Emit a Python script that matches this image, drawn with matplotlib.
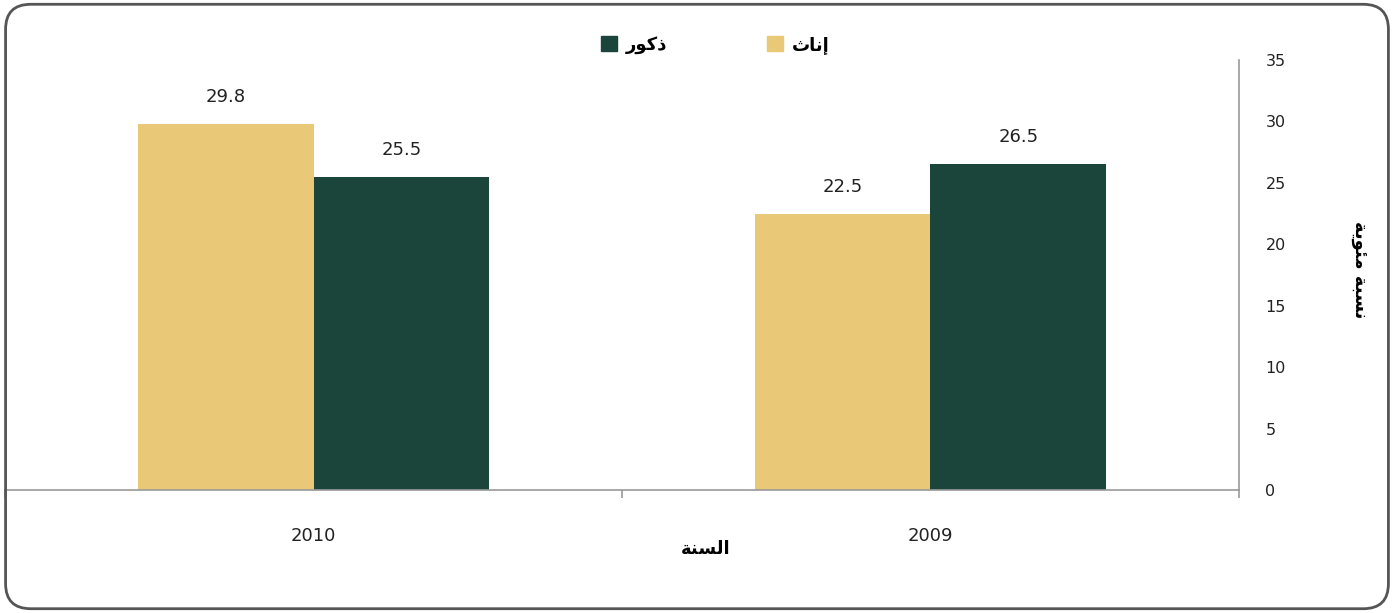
import matplotlib
matplotlib.use("Agg")
import matplotlib.pyplot as plt
from matplotlib.patches import FancyBboxPatch, Patch
import numpy as np

# data (years shown right-to-left, 2009 on the right)
years = ["2009", "2010"]
female = [22.5, 29.8]   # إناث
male = [26.5, 25.5]     # ذكور

# Arabic labels in presentation forms, visual (left-to-right) order,
# since matplotlib does no Arabic shaping itself
lbl_female = "\uFE99\uFE8E\uFEE7\uFE87"          # إناث
lbl_male = "\uFEAD\uFEEE\uFEDB\uFEAB"            # ذكور
lbl_x = "\uFE94\uFEE8\uFEB4\uFEDF\uFE8D"          # السنة
lbl_y = "\uFE94\uFEF3\uFEEE\uFE8C\uFEE3 \uFE94\uFE92\uFEB4\uFEE7"  # نسبة مئوية

c_female = "#E9C877"
c_male = "#1B443A"
c_axis = "#9A9A9A"

plt.rcParams['font.family'] = ['DejaVu Sans']

fig = plt.figure(figsize=(13.94, 6.13), dpi=100)

# rounded frame around the whole chart
frame = FancyBboxPatch((0.004, 0.007), 0.992, 0.986,
                       boxstyle="round,pad=0,rounding_size=0.018",
                       transform=fig.transFigure, fill=False,
                       edgecolor="#555555", linewidth=2, mutation_aspect=1394/613)
fig.patches.append(frame)

ax = fig.add_axes([0.0036, 0.2007, 0.8852, 0.7013])

# x axis is inverted, so female (left in each group) gets the + offset
x = np.arange(len(years))
w = 0.285
b1 = ax.bar(x + w / 2, female, w, color=c_female, label=lbl_female)
b2 = ax.bar(x - w / 2, male, w, color=c_male, label=lbl_male)

for bars, vals in [(b1, female), (b2, male)]:
    for r, v in zip(bars, vals):
        ax.annotate(f"{v:.1f}", (r.get_x() + r.get_width() / 2, v),
                    xytext=(0, 13), textcoords="offset points",
                    ha="center", va="bottom", fontsize=13, color="#222222")

ax.set_xlim(1.5, -0.5)
ax.set_ylim(0, 35)

for s in ["top", "left"]:
    ax.spines[s].set_visible(False)
ax.spines["bottom"].set_color(c_axis)
ax.spines["right"].set_color(c_axis)
ax.spines["bottom"].set_linewidth(1.2)
ax.spines["right"].set_linewidth(1.2)

ax.yaxis.tick_right()
ax.set_yticks(np.arange(0, 36, 5))
ax.tick_params(axis="y", length=0, pad=19, labelsize=11.5, labelcolor="#222222")

ax.set_xticks([-0.5, 0.5, 1.5])
ax.set_xticklabels([])
ax.tick_params(axis="x", which="major", length=6, width=1.2, color=c_axis)
ax.set_xticks(x, minor=True)
ax.set_xticklabels(years, minor=True)
ax.tick_params(axis="x", which="minor", length=0, pad=27, labelsize=13, labelcolor="#222222")

fig.text(0.506, 0.105, lbl_x, ha="center", va="center", fontsize=13, fontweight="bold")
fig.text(0.975, 0.56, lbl_y, ha="center", va="center", fontsize=13,
         fontweight="bold", rotation=270)

handles = [Patch(color=c_male, label=lbl_male), Patch(color=c_female, label=lbl_female)]
fig.legend(handles=handles, loc="center", bbox_to_anchor=(0.513, 0.927), ncol=2,
           frameon=False, handlelength=0.9, handleheight=0.9,
           handletextpad=0.5, columnspacing=5.5, prop={"weight": "bold", "size": 13})

fig.savefig("out.png", dpi=100)
